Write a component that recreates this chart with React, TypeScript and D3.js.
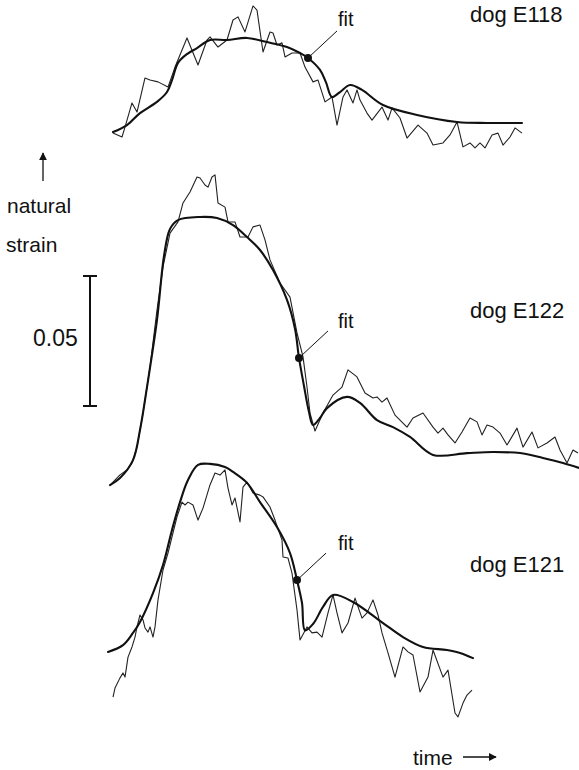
import React from "react";
import * as d3 from "d3";

// time in arbitrary units, strain in units of 0.001 (natural strain × 1000)
const e118Measured: [number, number][] = [
  [13, 6.5], [22, 5.0], [25, 8.8], [32, 18.1], [37, 14.6], [45, 27.7], [50, 26.9], [58, 26.2], [68, 24.2],
  [75, 31.9], [87, 43.1], [98, 32.7], [107, 42.3], [110, 43.5], [118, 39.6], [127, 42.3], [133, 50.0],
  [138, 51.2], [145, 45.4], [153, 55.4], [157, 53.8], [163, 37.7], [170, 45.4], [173, 45.0], [177, 40.4],
  [182, 41.2], [185, 35.8], [192, 37.3], [200, 37.3], [205, 31.9], [213, 26.2], [218, 26.9], [225, 18.5],
  [232, 20.4], [237, 9.6], [243, 20.4], [247, 23.1], [253, 18.1], [257, 23.1], [260, 19.2], [267, 14.2],
  [272, 11.5], [282, 16.5], [288, 11.5], [292, 16.2], [300, 12.3], [307, 4.6], [318, 9.6], [327, 6.5],
  [333, 1.9], [343, 2.7], [350, 5.8], [357, 10.8], [363, 1.2], [370, 2.7], [375, 0.8], [380, 2.7],
  [385, 0.8], [392, 5.8], [398, 6.5], [403, 1.9], [410, 5.0], [415, 8.5], [422, 6.5],
];
const e118Fit: [number, number][] = [
  [13, 6.9], [27, 9.6], [40, 14.2], [57, 18.5], [67, 22.3], [72, 26.9], [78, 33.5], [87, 36.9], [97, 39.2],
  [110, 42.3], [127, 42.3], [147, 43.1], [167, 41.5], [187, 39.6], [200, 37.3], [208, 35.4], [220, 30.8],
  [226, 26.0], [232, 20.4], [240, 22.3], [250, 25.0], [262, 23.1], [283, 17.3], [317, 13.5], [357, 10.8],
  [387, 10.4], [422, 10.4],
];
const e122Measured: [number, number][] = [
  [10, 1.9], [20, 5.8], [27, 7.7], [32, 10.4], [37, 16.5], [43, 29.6], [50, 47.3], [57, 69.2], [63, 85.8],
  [70, 98.8], [78, 103.1], [83, 110.4], [90, 114.6], [97, 120.4], [100, 120.0], [105, 117.3], [108, 116.5],
  [112, 120.4], [115, 121.2], [118, 110.4], [125, 108.8], [128, 103.1], [135, 103.1], [140, 97.3],
  [148, 97.3], [153, 101.2], [160, 101.9], [165, 96.2], [170, 88.5], [180, 79.6], [190, 74.2], [197, 60.4],
  [203, 51.2], [207, 39.6], [210, 29.6], [215, 22.7], [223, 29.6], [233, 36.5], [242, 39.6], [248, 46.2],
  [257, 43.5], [265, 37.3], [273, 35.4], [277, 35.8], [282, 33.8], [287, 35.4], [295, 28.8], [300, 26.9],
  [307, 24.2], [313, 27.7], [323, 29.6], [333, 24.2], [338, 21.9], [343, 23.8], [348, 21.2], [355, 18.1],
  [362, 22.3], [370, 27.7], [377, 26.2], [382, 21.2], [387, 25.0], [393, 24.2], [400, 21.9], [407, 17.3],
  [417, 23.8], [423, 16.5], [432, 22.3], [438, 16.2], [447, 18.1], [455, 20.4], [460, 15.4], [467, 10.4],
  [473, 15.4], [478, 14.2],
];
const e122Fit: [number, number][] = [
  [10, 1.9], [20, 4.6], [33, 11.5], [40, 23.1], [47, 39.6], [57, 65.4], [64, 90.0], [70, 100.4], [78, 103.8],
  [100, 105.0], [117, 104.6], [133, 101.9], [147, 97.3], [160, 92.3], [173, 84.6], [187, 73.1], [195, 62.0],
  [199, 50.8], [204, 40.0], [209, 30.0], [213, 25.0], [220, 27.7], [227, 31.5], [247, 35.8], [260, 33.5],
  [277, 26.9], [293, 24.2], [310, 20.4], [333, 13.5], [367, 14.2], [393, 14.6], [420, 14.2], [443, 12.3],
  [463, 10.4], [479, 8.5],
];
const e121Measured: [number, number][] = [
  [13, 8.8], [15, 12.3], [20, 16.2], [23, 18.1], [25, 16.5], [28, 24.2], [32, 28.1], [35, 31.9], [37, 35.8],
  [40, 40.4], [43, 38.5], [45, 35.4], [48, 33.8], [50, 35.8], [53, 31.9], [55, 35.8], [58, 46.2], [63, 57.7],
  [68, 64.2], [72, 70.4], [77, 78.1], [82, 83.8], [85, 82.7], [88, 83.8], [93, 82.7], [98, 76.9], [103, 81.5],
  [110, 90.4], [115, 95.0], [120, 94.2], [125, 96.2], [128, 89.2], [132, 82.7], [135, 85.4], [140, 76.2],
  [143, 89.6], [147, 91.5], [153, 87.3], [160, 86.5], [163, 85.8], [170, 81.9], [175, 76.9], [182, 69.2],
  [183, 62.7], [188, 62.3], [192, 56.5], [197, 42.3], [200, 30.8], [207, 35.8], [212, 33.5], [217, 33.8],
  [222, 31.9], [228, 41.2], [233, 48.1], [237, 41.2], [242, 33.5], [248, 37.3], [255, 46.9], [262, 39.2],
  [267, 41.2], [273, 46.2], [278, 40.4], [282, 33.5], [288, 25.8], [295, 16.5], [303, 28.1], [308, 26.2],
  [313, 25.0], [320, 10.8], [328, 16.5], [333, 26.9], [343, 16.5], [348, 19.2], [355, 2.7], [358, 1.2],
  [363, 6.5], [367, 9.6], [372, 11.5],
];
const e121Fit: [number, number][] = [
  [8, 26.2], [23, 28.8], [33, 33.5], [40, 37.7], [53, 48.8], [63, 59.6], [72, 73.1], [80, 83.8], [88, 92.3],
  [98, 98.1], [110, 98.5], [125, 97.3], [133, 95.4], [147, 91.2], [160, 83.8], [177, 74.2], [190, 64.2],
  [197, 53.8], [202, 45.0], [205, 34.5], [213, 36.9], [223, 43.5], [233, 48.1], [253, 45.4], [283, 37.3],
  [303, 31.9], [323, 28.1], [347, 26.9], [360, 25.8], [373, 23.8],
];
const dogLabels = ["dog E118", "dog E122", "dog E121"];
const fitPoints: [number, number][] = [[208, 35.4], [199, 50.8], [197, 53.8]];
const scaleBarValue = 50; // 0.05 natural strain
const scaleBarLabel = "0.05";

const W = 579;
const H = 770;
const FONT = "'Liberation Sans', Arial, Helvetica, sans-serif";

export default function App() {
  const x = d3.scaleLinear().domain([0, 480]).range([100, 580]);
  const dy = d3.scaleLinear().domain([0, 50]).range([0, 130]);
  const bases = [150, 490, 720];
  const panels = [
    { m: e118Measured, f: e118Fit },
    { m: e122Measured, f: e122Fit },
    { m: e121Measured, f: e121Fit },
  ];
  const labelY = [22, 318, 572];
  const fitLabelY = [26, 328, 550];

  return (
    <svg width={W} height={H} style={{ position: "absolute", left: 0, top: 0, background: "#fff" }} fontFamily={FONT}>
      <defs>
        <marker id="ah" viewBox="0 0 10 10" refX="9" refY="5" markerWidth="7" markerHeight="6" orient="auto">
          <path d="M0,0 L10,5 L0,10 z" fill="#111" />
        </marker>
      </defs>
      <rect width={W} height={H} fill="#fff" />
      {panels.map((p, i) => {
        const base = bases[i];
        const line = d3
          .line<[number, number]>()
          .x((d) => x(d[0]))
          .y((d) => base - dy(d[1]));
        const smooth = d3
          .line<[number, number]>()
          .x((d) => x(d[0]))
          .y((d) => base - dy(d[1]))
          .curve(d3.curveCatmullRom.alpha(0.5));
        const fp = fitPoints[i];
        const cx = x(fp[0]);
        const cy = base - dy(fp[1]);
        return (
          <g key={i}>
            <path d={line(p.m) || ""} fill="none" stroke="#222" strokeWidth={1.1} strokeLinejoin="round" />
            <path d={smooth(p.f) || ""} fill="none" stroke="#111" strokeWidth={2.1} strokeLinejoin="round" strokeLinecap="round" />
            <circle cx={cx} cy={cy} r={4} fill="#111" />
            <line x1={cx} y1={cy} x2={cx + 29} y2={cy - 27} stroke="#111" strokeWidth={1} />
            <text x={338} y={fitLabelY[i]} fontSize={20} fill="#111">fit</text>
            <text x={470} y={labelY[i]} fontSize={22} fill="#111">{dogLabels[i]}</text>
          </g>
        );
      })}
      {/* y indicator */}
      <line x1={43} y1={181} x2={43} y2={153} stroke="#111" strokeWidth={1.3} markerEnd="url(#ah)" />
      <text x={7} y={213} fontSize={21} fill="#111">natural</text>
      <text x={6} y={252} fontSize={21} fill="#111">strain</text>
      {/* scale bar */}
      {(() => {
        const b = 406;
        const t = b - dy(scaleBarValue);
        return (
          <g stroke="#111" strokeWidth={2}>
            <line x1={90} y1={t} x2={90} y2={b} />
            <line x1={83} y1={t} x2={97} y2={t} />
            <line x1={83} y1={b} x2={97} y2={b} />
          </g>
        );
      })()}
      <text x={33} y={346} fontSize={23} fill="#111">{scaleBarLabel}</text>
      {/* time */}
      <text x={413} y={765} fontSize={21} fill="#111">time</text>
      <line x1={463} y1={757} x2={496} y2={757} stroke="#111" strokeWidth={1.3} markerEnd="url(#ah)" />
    </svg>
  );
}
